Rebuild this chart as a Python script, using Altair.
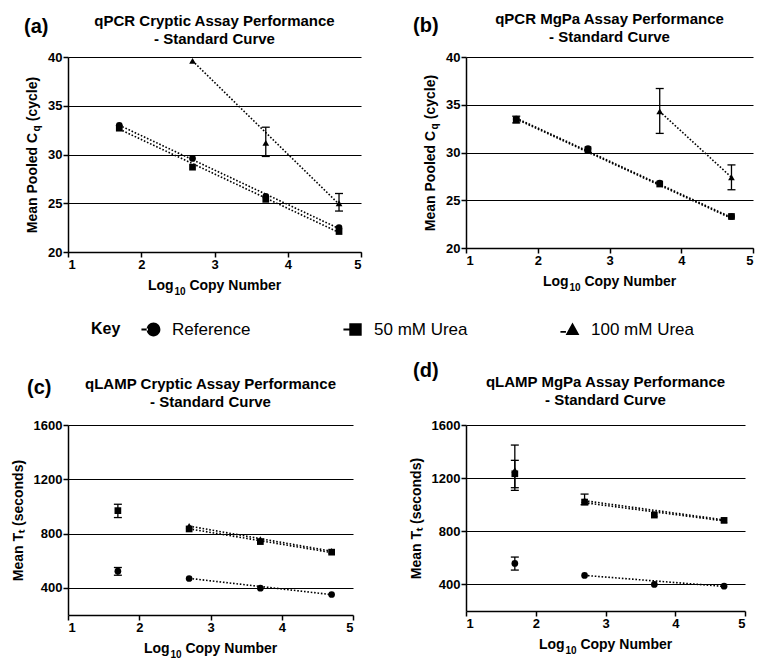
import altair as alt
import pandas as pd

SERIES = ["Reference", "50 mM Urea", "100 mM Urea"]
X = [1.7, 2.7, 3.7, 4.7]

# ---- panel (a) qPCR Cryptic ----
A_REF = [33.0, 29.6, 25.7, 22.5]
A_U50 = [32.7, 28.7, 25.4, 22.1]
A_U100 = [None, 39.6, 31.2, 25.0]
A_U100_LO = [None, None, 29.8, 24.2]
A_U100_HI = [None, None, 32.8, 26.0]
A_FIT_X = [[1.7, 4.7], [1.7, 4.7], [2.7, 4.7]]
A_FIT_Y = [[33.0, 22.4], [32.6, 22.0], [39.6, 24.9]]

# ---- panel (b) qPCR MgPa ----
B_REF = [33.5, 30.4, 26.8, 23.3]
B_U50 = [33.4, 30.3, 26.7, 23.3]
B_U50_LO = [33.1, None, None, None]
B_U50_HI = [33.8, None, None, None]
B_U100 = [None, None, 34.3, 27.4]
B_U100_LO = [None, None, 32.0, 26.1]
B_U100_HI = [None, None, 36.7, 28.7]
B_FIT_X = [[1.7, 4.7], [1.7, 4.7], [3.7, 4.7]]
B_FIT_Y = [[33.6, 23.2], [33.5, 23.1], [34.3, 27.4]]

# ---- panel (c) qLAMP Cryptic ----
C_REF = [523, 469, 398, 351]
C_REF_LO = [493, None, None, None]
C_REF_HI = [550, None, None, None]
C_U50 = [969, 834, 741, 663]
C_U50_LO = [918, None, None, None]
C_U50_HI = [1016, None, None, None]
C_U100 = [None, 857, 758, 673]
C_FIT_X = [[2.7, 4.7], [2.7, 4.7], [2.7, 4.7]]
C_FIT_Y = [[470, 350], [835, 660], [855, 670]]

# ---- panel (d) qLAMP MgPa ----
D_REF = [558, 468, 400, 387]
D_REF_LO = [508, None, None, None]
D_REF_HI = [606, None, None, None]
D_U50 = [1233, 1020, 922, 882]
D_U50_LO = [1128, 1000, None, None]
D_U50_HI = [1334, 1080, None, None]
D_U100 = [1261, 1035, 930, 885]
D_U100_LO = [1108, None, None, None]
D_U100_HI = [1449, None, None, None]
D_FIT_X = [[2.7, 4.7], [2.7, 4.7], [2.7, 4.7]]
D_FIT_Y = [[468, 385], [1015, 878], [1030, 886]]

SHAPES = {"Reference": "circle", "50 mM Urea": "square", "100 mM Urea": "triangle-up"}
KEY_PATHS = [
    "M-1.75,-0.14L-0.8,-0.14L-0.8,0.14L-1.75,0.14Z M-1,0A1,1 0 1,0 1,0A1,1 0 1,0 -1,0Z",
    "M-1.75,-0.14L-0.85,-0.14L-0.85,0.14L-1.75,0.14Z M-0.9,-0.9L0.9,-0.9L0.9,0.9L-0.9,0.9Z",
    "M-1.75,0.2L-0.95,0.2L-0.95,0.48L-1.75,0.48Z M0,-1L1,0.8L-1,0.8Z",
]
FONT = "Liberation Sans"
NB = "\u00a0"


def points_frame(vals, los, his):
    rows = []
    for s, v, lo, hi in zip(SERIES, vals, los, his):
        for i, x in enumerate(X):
            if v[i] is None:
                continue
            rows.append({"x": x, "y": v[i], "series": s, "shape": SHAPES[s],
                         "lo": None if lo is None else lo[i],
                         "hi": None if hi is None else hi[i]})
    return pd.DataFrame(rows)


def fit_frame(fx, fy):
    rows = []
    for s, xs, ys in zip(SERIES, fx, fy):
        for x, y in zip(xs, ys):
            rows.append({"x": x, "y": y, "series": s})
    return pd.DataFrame(rows)


def text_at(txt, x, y, size=10, angle=0, align="left"):
    kw = dict(fontSize=size, fontWeight="bold", font=FONT, align=align,
              baseline="alphabetic", color="black")
    if angle:
        kw["angle"] = angle
    return alt.Chart(pd.DataFrame({"t": [txt]})).mark_text(**kw).encode(
        text="t:N", x=alt.value(x), y=alt.value(y))


def panel(pts, fits, ydom, yvals, ytitle, title, tag, w, h, tag_xy, title_offset,
          key=False, subq=False):
    xenc = alt.X("x:Q", scale=alt.Scale(domain=[1, 5], nice=False, zero=False),
                 axis=alt.Axis(values=[1, 2, 3, 4, 5], title=None, grid=False, format="d"))
    yenc = alt.Y("y:Q", scale=alt.Scale(domain=ydom, nice=False, zero=False),
                 axis=alt.Axis(values=yvals, title=ytitle, grid=True, format="d"))
    base = alt.Chart(pts)
    fit = alt.Chart(fits).mark_line(color="black", strokeWidth=1.6, strokeDash=[1.6, 1.8]).encode(
        x=xenc, y=yenc, detail="series:N")
    err = base.transform_filter("datum.lo != null").mark_rule(color="black", strokeWidth=1.3).encode(
        x="x:Q", y="lo:Q", y2="hi:Q")
    cap_lo = base.transform_filter("datum.lo != null").mark_tick(
        color="black", orient="horizontal", size=8, thickness=1.3, opacity=1).encode(x="x:Q", y="lo:Q")
    cap_hi = base.transform_filter("datum.lo != null").mark_tick(
        color="black", orient="horizontal", size=8, thickness=1.3, opacity=1).encode(x="x:Q", y="hi:Q")
    pt = base.mark_point(filled=True, color="black", size=45, opacity=1).encode(
        x="x:Q", y="y:Q", shape=alt.Shape("shape:N", scale=None))
    lab = alt.Chart(pd.DataFrame({"t": [tag]})).mark_text(
        fontSize=20, fontWeight="bold", font=FONT, align="left", baseline="top", color="black"
    ).encode(text="t:N", x=alt.value(tag_xy[0]), y=alt.value(tag_xy[1]))
    # x-axis title "Log10 Copy Number" with a real subscript
    x0 = w / 2 - 66.5
    xt = [text_at("Log", x0, h + 38, size=14),
          text_at("10", x0 + 26.4, h + 43, size=10),
          text_at("Copy Number", x0 + 41.4, h + 38, size=14)]
    layers = [fit, err, cap_lo, cap_hi, pt, lab] + xt
    if subq:
        layers.append(text_at("q", -28, h / 2 - 26, angle=270, align="center"))
    if key:
        dummy = alt.Chart(pd.DataFrame({"series": SERIES})).mark_point(
            filled=True, color="black", opacity=0).encode(
            x=alt.value(10), y=alt.value(10),
            shape=alt.Shape("series:N", scale=alt.Scale(domain=SERIES, range=KEY_PATHS),
                            legend=alt.Legend(
                                title="Key", orient="none", legendX=23, legendY=264,
                                direction="horizontal", columns=3, columnPadding=92,
                                gridAlign="none", titleOrient="left", titleFontSize=16,
                                titleFont=FONT, titleFontWeight="bold", titleColor="black",
                                titlePadding=24, titleBaseline="middle",
                                labelFontSize=17, labelFont=FONT, labelColor="black",
                                labelOffset=10, symbolSize=190, symbolOpacity=1,
                                symbolFillColor="black", symbolStrokeWidth=0,
                                symbolStrokeColor="black")))
        layers.append(dummy)
    return alt.layer(*layers).properties(
        width=w, height=h,
        title=alt.TitleParams(title, fontSize=15, fontWeight="bold", font=FONT, color="black",
                              anchor="middle", frame="group", offset=title_offset, lineHeight=18))


CQ_TITLE = "Mean Pooled C" + NB * 3 + "(cycle)"
TT_TITLE = "Mean Tₜ (seconds)"
pa = panel(points_frame([A_REF, A_U50, A_U100], [None, None, A_U100_LO], [None, None, A_U100_HI]),
           fit_frame(A_FIT_X, A_FIT_Y), [20, 40], [20, 25, 30, 35, 40], CQ_TITLE,
           ["qPCR Cryptic Assay Performance", "- Standard Curve"], "(a)", 293, 195,
           (-44, -40), -30, key=True, subq=True)
pb = panel(points_frame([B_REF, B_U50, B_U100], [None, B_U50_LO, B_U100_LO], [None, B_U50_HI, B_U100_HI]),
           fit_frame(B_FIT_X, B_FIT_Y), [20, 40], [20, 25, 30, 35, 40], CQ_TITLE,
           ["qPCR MgPa Assay Performance", "- Standard Curve"], "(b)", 287, 191,
           (-53, -41), -29, subq=True)
pc = panel(points_frame([C_REF, C_U50, C_U100], [C_REF_LO, C_U50_LO, None], [C_REF_HI, C_U50_HI, None]),
           fit_frame(C_FIT_X, C_FIT_Y), [200, 1600], [400, 800, 1200, 1600], TT_TITLE,
           ["qLAMP Cryptic Assay Performance", "- Standard Curve"], "(c)", 285, 190,
           (-41, -47), -32)
pd_ = panel(points_frame([D_REF, D_U50, D_U100], [D_REF_LO, D_U50_LO, D_U100_LO], [D_REF_HI, D_U50_HI, D_U100_HI]),
            fit_frame(D_FIT_X, D_FIT_Y), [200, 1600], [400, 800, 1200, 1600], TT_TITLE,
            ["qLAMP MgPa Assay Performance", "- Standard Curve"], "(d)", 279, 186,
            (-53, -64), -47)

chart = alt.concat(pa, pb, pc, pd_, columns=2, spacing={"row": 173, "column": 105}).properties(
    bounds="flush", align="each", padding={"left": 3, "top": 4, "right": 5, "bottom": 5},
    background="white"
).configure_view(stroke=None).configure_axis(
    domainColor="black", domainWidth=1.5, tickColor="black", tickWidth=1.5, tickSize=5,
    gridColor="black", gridWidth=1.2, gridOpacity=1,
    labelFont=FONT, labelFontSize=13, labelFontWeight="bold", labelColor="black", labelPadding=1,
    titleFont=FONT, titleFontSize=14, titleFontWeight="bold", titleColor="black", titlePadding=8
)

chart.save("out.html", embed_options={"renderer": "svg", "actions": False})
